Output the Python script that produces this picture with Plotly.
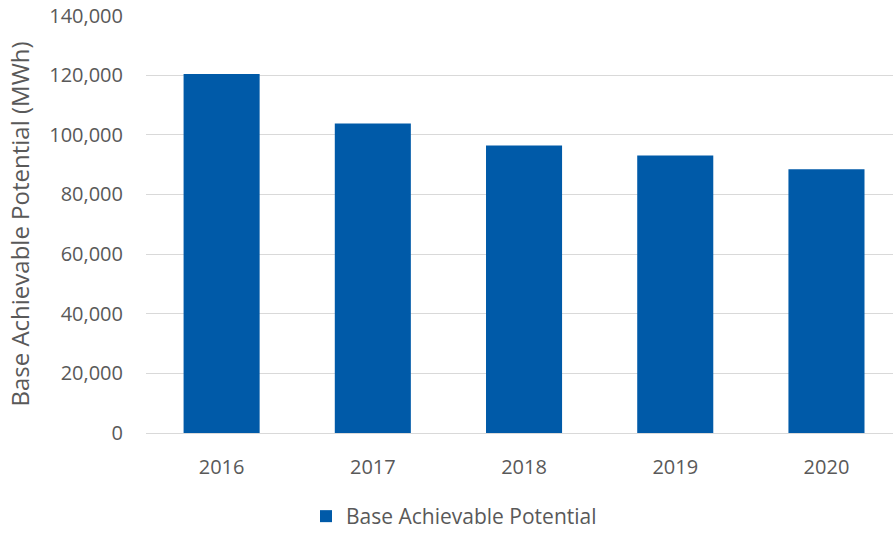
import plotly.graph_objects as go

years = ["2016", "2017", "2018", "2019", "2020"]
base_achievable = [120400, 103800, 96400, 93100, 88500]
series_name = "Base Achievable Potential"
y_ticks = [0, 20000, 40000, 60000, 80000, 100000, 120000, 140000]

text_color = "#595959"
font_family = "Open Sans, Noto Sans, sans-serif"

fig = go.Figure()
fig.add_trace(go.Bar(
    x=years,
    y=base_achievable,
    name=series_name,
    marker=dict(color="#005AA8", line=dict(width=0)),
    showlegend=True,
))

fig.update_layout(
    width=893,
    height=537,
    margin=dict(l=146, r=0, t=15, b=97),
    paper_bgcolor="white",
    plot_bgcolor="white",
    bargap=0.497,
    font=dict(family=font_family, color=text_color, size=20),
    showlegend=True,
    legend=dict(
        orientation="h",
        x=(454 - 146) / 747,
        xanchor="center",
        y=-0.2,
        yanchor="middle",
        font=dict(size=21, color=text_color),
        itemwidth=30,
    ),
)

fig.update_xaxes(
    type="category",
    range=[-0.5, 4.44],
    showgrid=False,
    showline=False,
    ticks="",
    ticklabelstandoff=20,
    tickfont=dict(size=20, color=text_color),
    automargin=False,
)

fig.update_yaxes(
    range=[0, 140200],
    tickvals=y_ticks,
    ticktext=[f"{v:,}" for v in y_ticks],
    showgrid=True,
    gridcolor="#D9D9D9",
    gridwidth=1,
    zeroline=True,
    zerolinecolor="#D9D9D9",
    zerolinewidth=1,
    showline=False,
    ticks="",
    ticklabelstandoff=22,
    tickfont=dict(size=20, color=text_color),
    title=dict(text="Base Achievable Potential (MWh)", font=dict(size=24, color=text_color), standoff=12),
    automargin=False,
)

fig.write_html(
    "out.html",
    config={"displayModeBar": False},
    post_script="document.body.style.margin='0';document.body.style.overflow='hidden';",
)
